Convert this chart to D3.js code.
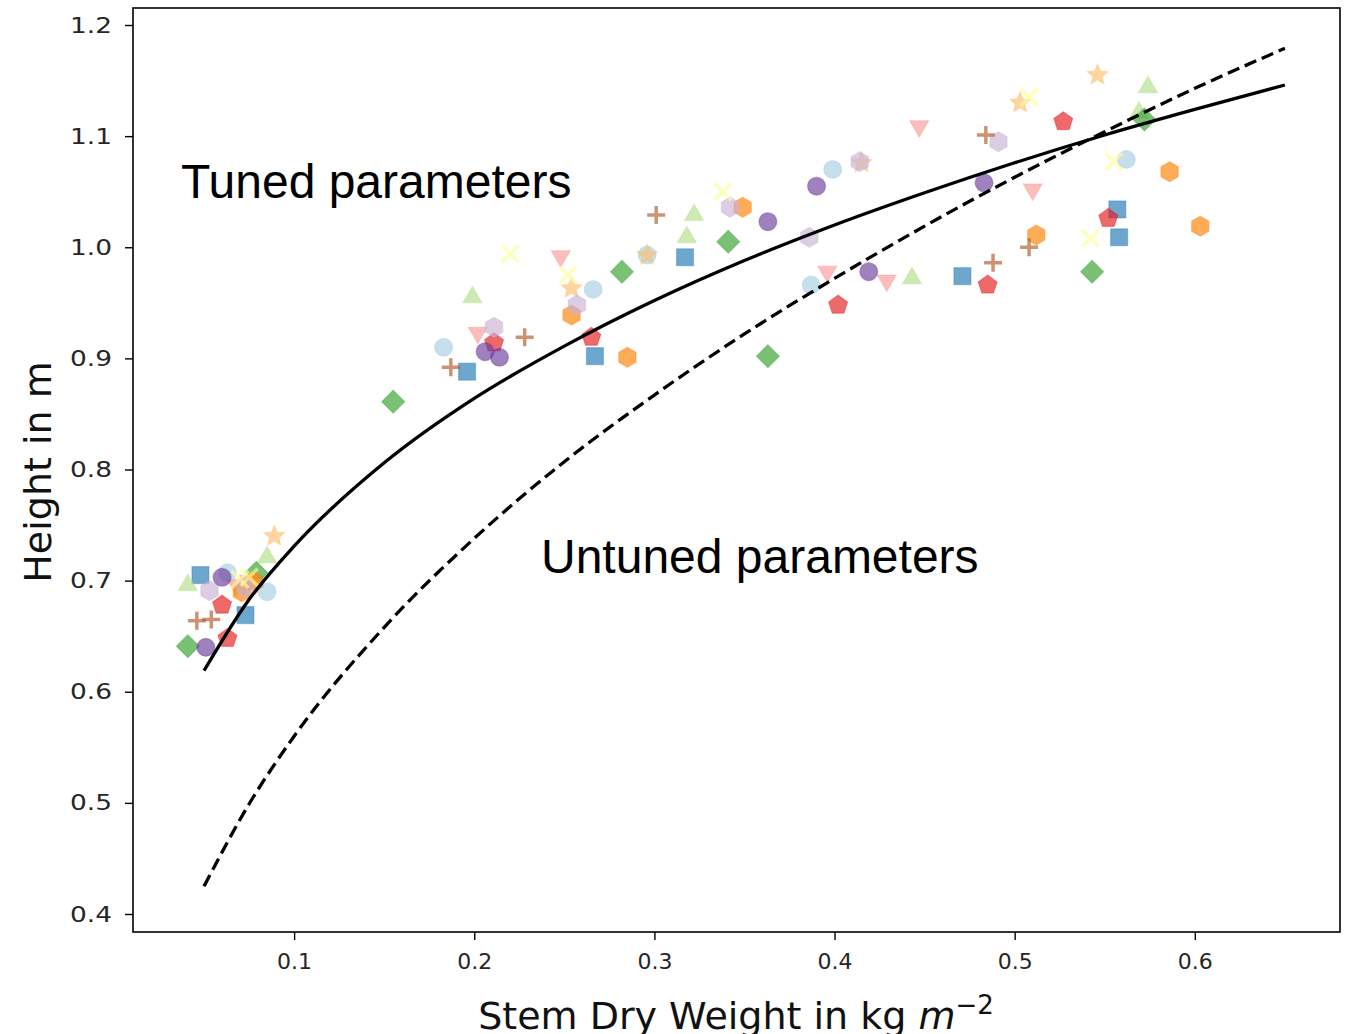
<!DOCTYPE html>
<html lang="en">
<head>
<meta charset="utf-8" />
<title>Height vs stem dry weight</title>
<style>
  body{margin:0;background:#fff;}
  svg{display:block;}
  .tick text{font-family:"DejaVu Sans",sans-serif;font-size:22px;fill:#262626;}
  .ax-label{font-family:"DejaVu Sans",sans-serif;font-size:38px;fill:#111;}
  .note{font-family:"Liberation Sans",Arial,sans-serif;font-size:48px;fill:#000;}
</style>
<script src="https://cdn.jsdelivr.net/npm/d3@7.9.0/dist/d3.min.js"></script>
</head>
<body>
<svg id="chart" width="1350" height="1034"></svg>
<script>
/* ───────── DATA ───────── */
const xTicks = [0.1,0.2,0.3,0.4,0.5,0.6];
const yTicks = [0.4,0.5,0.6,0.7,0.8,0.9,1.0,1.1,1.2];

// model curves
const curveX       = [0.05,0.075,0.1,0.15,0.2,0.25,0.3,0.35,0.4,0.45,0.5,0.55,0.6,0.65];
const tunedY       = [0.619,0.683,0.731,0.806,0.864,0.911,0.952,0.988,1.020,1.049,1.076,1.101,1.124,1.146];
const untunedY     = [0.425,0.499,0.560,0.658,0.738,0.807,0.867,0.922,0.972,1.019,1.063,1.104,1.143,1.179];

// observations, one list per plot/series
const ltBlueX   = [0.063,0.085,0.183,0.266,0.296,0.387,0.399,0.562];
const ltBlueY   = [0.707,0.690,0.910,0.962,0.993,0.966,1.070,1.079];
const blueX     = [0.048,0.073,0.196,0.267,0.317,0.471,0.557,0.558];
const blueY     = [0.705,0.669,0.888,0.902,0.991,0.974,1.034,1.009];
const ltGreenX  = [0.041,0.085,0.199,0.318,0.322,0.443,0.569,0.574];
const ltGreenY  = [0.696,0.721,0.955,1.009,1.029,0.972,1.121,1.144];
const greenX    = [0.041,0.079,0.155,0.282,0.341,0.363,0.543,0.572];
const greenY    = [0.641,0.707,0.861,0.978,1.005,0.902,0.978,1.115];
const pinkX     = [0.068,0.075,0.202,0.248,0.396,0.429,0.447,0.510];
const pinkY     = [0.696,0.700,0.923,0.992,0.978,0.970,1.109,1.052];
const redX      = [0.060,0.063,0.211,0.265,0.402,0.485,0.527,0.552];
const redY      = [0.678,0.648,0.914,0.919,0.948,0.966,1.113,1.026];
const ltOrangeX = [0.070,0.076,0.089,0.254,0.296,0.415,0.503,0.546];
const ltOrangeY = [0.694,0.698,0.740,0.963,0.993,1.076,1.130,1.155];
const orangeX   = [0.071,0.078,0.254,0.285,0.349,0.512,0.586,0.603];
const orangeY   = [0.690,0.699,0.939,0.901,1.036,1.011,1.068,1.019];
const ltPurpleX = [0.053,0.073,0.211,0.257,0.342,0.386,0.414,0.491];
const ltPurpleY = [0.691,0.694,0.928,0.948,1.036,1.009,1.077,1.095];
const purpleX   = [0.051,0.060,0.206,0.214,0.363,0.390,0.419,0.483];
const purpleY   = [0.640,0.703,0.906,0.901,1.023,1.055,0.978,1.058];
const yellowX   = [0.070,0.075,0.220,0.252,0.338,0.508,0.542,0.555];
const yellowY   = [0.701,0.703,0.994,0.975,1.050,1.135,1.008,1.077];
const brownX    = [0.046,0.054,0.187,0.228,0.301,0.484,0.488,0.508];
const brownY    = [0.664,0.665,0.892,0.919,1.029,1.101,0.986,1.000];

const seriesX      = [ltBlueX,blueX,ltGreenX,greenX,pinkX,redX,ltOrangeX,orangeX,ltPurpleX,purpleX,yellowX,brownX];
const seriesY      = [ltBlueY,blueY,ltGreenY,greenY,pinkY,redY,ltOrangeY,orangeY,ltPurpleY,purpleY,yellowY,brownY];
const seriesColor  = ['#a6cee3','#1f78b4','#b2df8a','#33a02c','#fb9a99','#e31a1c','#fdbf6f','#ff7f00','#cab2d6','#6a3d9a','#ffff99','#b15928'];
const seriesMarker = ['o','s','^','D','v','p','*','h','h','o','x','+'];

/* ───────── LAYOUT ───────── */
const M = {left:133, right:1340, top:8, bottom:932};

const svg = d3.select('#chart');

const x = d3.scaleLinear([0.01056,0.6806],[M.left,M.right]);
const y = d3.scaleLinear([0.3838,1.2153],[M.bottom,M.top]);

/* marker paths (radius r in px) */
function poly(n,r,rot){
  const pts=[];
  for(let i=0;i<n;i++){
    const a=rot+i*2*Math.PI/n;
    pts.push([r*Math.sin(a),-r*Math.cos(a)]);
  }
  return 'M'+pts.map(p=>p.join(',')).join('L')+'Z';
}
function star(r){
  const pts=[];
  for(let i=0;i<10;i++){
    const a=i*Math.PI/5, rr=i%2?r*0.45:r;
    pts.push([rr*Math.sin(a),-rr*Math.cos(a)]);
  }
  return 'M'+pts.map(p=>p.join(',')).join('L')+'Z';
}
const markerPath = {
  'o': ()=>d3.symbol(d3.symbolCircle, Math.PI*9*9)(),
  's': ()=>'M-8.5,-8.5H8.5V8.5H-8.5Z',
  'D': ()=>poly(4,11.5,0),
  '^': ()=>poly(3,11,0),
  'v': ()=>poly(3,11,Math.PI),
  'p': ()=>poly(5,10,0),
  'h': ()=>poly(6,10,0),
  '*': ()=>star(11),
  'x': ()=>'M-8.5,-8.5L8.5,8.5M-8.5,8.5L8.5,-8.5',
  '+': ()=>'M-9,0H9M0,-9V9'
};

/* ───────── AXES ───────── */
const xAxis = d3.axisBottom(x).tickValues(xTicks).tickSize(8).tickPadding(13).tickFormat(d3.format('.1f'));
const yAxis = d3.axisLeft(y).tickValues(yTicks).tickSize(8).tickPadding(9.5).tickFormat(d3.format('.1f'));

svg.append('g').attr('transform',`translate(0,${M.bottom})`).call(xAxis)
   .call(g=>g.select('.domain').remove())
   .call(g=>g.selectAll('.tick line').attr('stroke','#000').attr('stroke-width',1.4));
svg.append('g').attr('transform',`translate(${M.left},0)`).call(yAxis)
   .call(g=>g.select('.domain').remove())
   .call(g=>g.selectAll('.tick line').attr('stroke','#000').attr('stroke-width',1.4))
   .call(g=>g.selectAll('.tick text').attr('transform','scale(1.2,1)'));

/* ───────── POINTS ───────── */
const pts = svg.append('g').attr('class','points');
seriesX.forEach((xs,si)=>{
  const col = seriesColor[si], mk = seriesMarker[si];
  const lineMk = mk==='x'||mk==='+';
  const data = xs.map((v,i)=>({x:v,y:seriesY[si][i]}));
  pts.selectAll(null).data(data).join('path')
    .attr('transform',d=>`translate(${x(d.x)},${y(d.y)})`)
    .attr('d',markerPath[mk]())
    .attr('fill',lineMk?'none':col)
    .attr('fill-opacity',0.65)
    .attr('stroke',col)
    .attr('stroke-opacity',lineMk?0.65:0.35)
    .attr('stroke-width',lineMk?3.5:1.2);
});

/* ───────── CURVES ───────── */
const line = d3.line().x(d=>x(d[0])).y(d=>y(d[1])).curve(d3.curveMonotoneX);
svg.append('path').datum(curveX.map((v,i)=>[v,tunedY[i]]))
   .attr('d',line).attr('fill','none').attr('stroke','#000').attr('stroke-width',3.3);
svg.append('path').datum(curveX.map((v,i)=>[v,untunedY[i]]))
   .attr('d',line).attr('fill','none').attr('stroke','#000').attr('stroke-width',3.3)
   .attr('stroke-dasharray','12.5,6');

/* frame */
svg.append('rect').attr('x',M.left).attr('y',M.top)
   .attr('width',M.right-M.left).attr('height',M.bottom-M.top)
   .attr('fill','none').attr('stroke','#000').attr('stroke-width',1.6);

/* ───────── LABELS ───────── */
svg.append('text').attr('class','note').attr('x',181).attr('y',198).text('Tuned parameters');
svg.append('text').attr('class','note').attr('x',541).attr('y',573).text('Untuned parameters');

svg.append('text').attr('class','ax-label')
   .attr('transform','translate(51,472) rotate(-90)').attr('text-anchor','middle')
   .text('Height in m');

const xl = svg.append('text').attr('class','ax-label')
   .attr('x',736).attr('y',1029).attr('text-anchor','middle');
xl.append('tspan').text('Stem Dry Weight in kg ');
xl.append('tspan').attr('font-style','italic').text('m');
xl.append('tspan').attr('dy',-15).attr('font-size',26).text('−2');
</script>
</body>
</html>
